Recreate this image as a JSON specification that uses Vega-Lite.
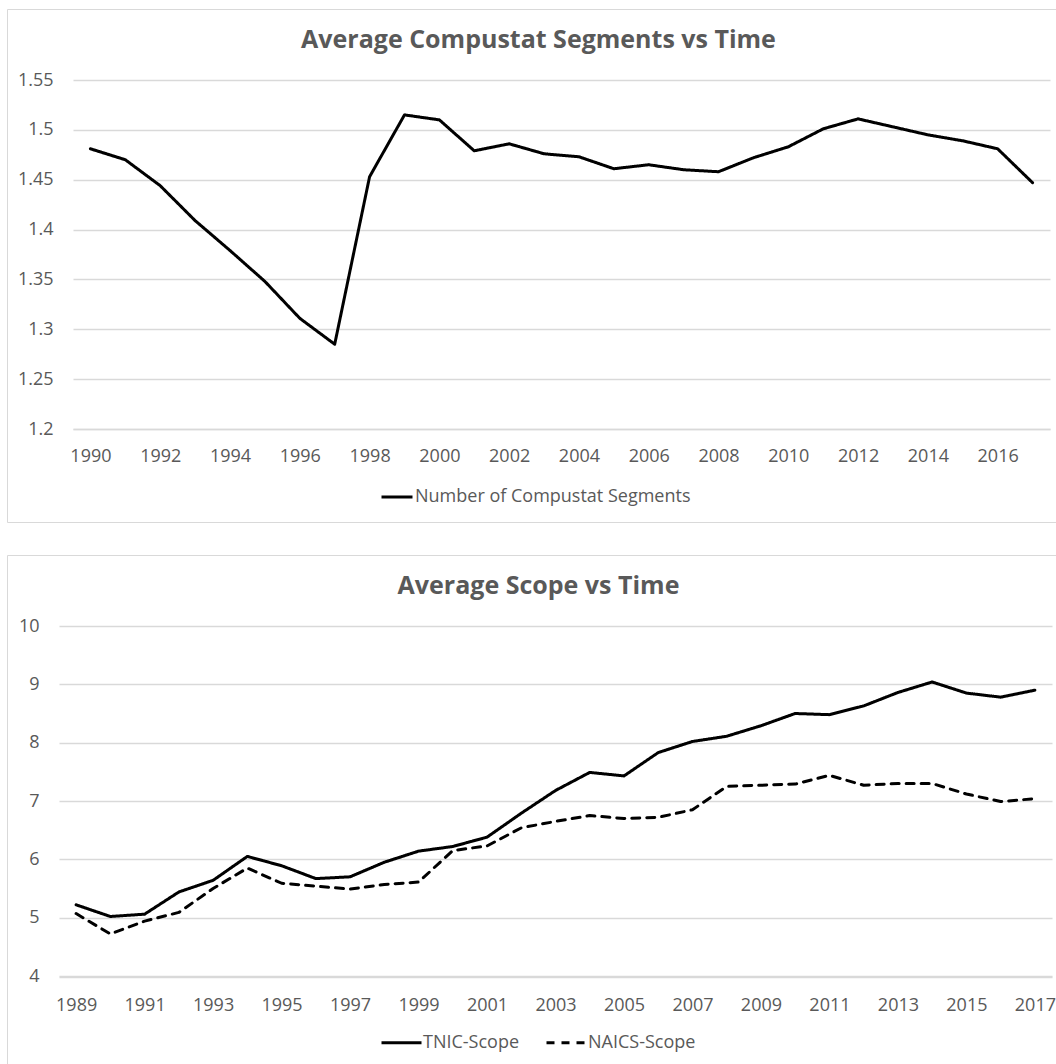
{
  "$schema": "https://vega.github.io/schema/vega-lite/v6.json",
  "padding": {"left": 6, "top": 8, "right": 0, "bottom": 0},
  "background": "white",
  "spacing": 31,
  "config": {
    "view": {"stroke": "#d9d9d9", "strokeWidth": 1},
    "font": "Open Sans",
    "axis": {
      "labelFont": "Open Sans",
      "labelFontSize": 18,
      "labelColor": "#595959",
      "gridColor": "#d9d9d9",
      "gridWidth": 1.3,
      "domainColor": "#d9d9d9",
      "domainWidth": 1.6,
      "ticks": false,
      "title": null
    },
    "legend": {
      "labelFont": "Open Sans",
      "labelFontSize": 18,
      "labelColor": "#595959",
      "labelLimit": 500
    },
    "title": {
      "font": "Open Sans",
      "fontSize": 25,
      "fontWeight": "bold",
      "color": "#595959"
    }
  },
  "resolve": {
    "scale": {"x": "independent", "y": "independent", "strokeDash": "independent"},
    "legend": {"strokeDash": "independent"}
  },
  "vconcat": [
    {
      "width": 1049,
      "height": 513,
      "title": {"text": "Average Compustat Segments vs Time", "offset": -44, "anchor": "middle", "dx": 7},
      "data": {
        "values": [
          {"year": "1990", "series": "Number of Compustat Segments", "value": 1.481},
          {"year": "1991", "series": "Number of Compustat Segments", "value": 1.470},
          {"year": "1992", "series": "Number of Compustat Segments", "value": 1.444},
          {"year": "1993", "series": "Number of Compustat Segments", "value": 1.409},
          {"year": "1994", "series": "Number of Compustat Segments", "value": 1.379},
          {"year": "1995", "series": "Number of Compustat Segments", "value": 1.348},
          {"year": "1996", "series": "Number of Compustat Segments", "value": 1.311},
          {"year": "1997", "series": "Number of Compustat Segments", "value": 1.285},
          {"year": "1998", "series": "Number of Compustat Segments", "value": 1.453},
          {"year": "1999", "series": "Number of Compustat Segments", "value": 1.515},
          {"year": "2000", "series": "Number of Compustat Segments", "value": 1.510},
          {"year": "2001", "series": "Number of Compustat Segments", "value": 1.479},
          {"year": "2002", "series": "Number of Compustat Segments", "value": 1.486},
          {"year": "2003", "series": "Number of Compustat Segments", "value": 1.476},
          {"year": "2004", "series": "Number of Compustat Segments", "value": 1.473},
          {"year": "2005", "series": "Number of Compustat Segments", "value": 1.461},
          {"year": "2006", "series": "Number of Compustat Segments", "value": 1.465},
          {"year": "2007", "series": "Number of Compustat Segments", "value": 1.460},
          {"year": "2008", "series": "Number of Compustat Segments", "value": 1.458},
          {"year": "2009", "series": "Number of Compustat Segments", "value": 1.472},
          {"year": "2010", "series": "Number of Compustat Segments", "value": 1.483},
          {"year": "2011", "series": "Number of Compustat Segments", "value": 1.501},
          {"year": "2012", "series": "Number of Compustat Segments", "value": 1.511},
          {"year": "2013", "series": "Number of Compustat Segments", "value": 1.503},
          {"year": "2014", "series": "Number of Compustat Segments", "value": 1.495},
          {"year": "2015", "series": "Number of Compustat Segments", "value": 1.489},
          {"year": "2016", "series": "Number of Compustat Segments", "value": 1.481},
          {"year": "2017", "series": "Number of Compustat Segments", "value": 1.447}
        ]
      },
      "mark": {"type": "line", "color": "black", "strokeWidth": 3, "strokeJoin": "round", "strokeCap": "round"},
      "encoding": {
        "x": {
          "field": "year", "type": "ordinal",
          "scale": {"type": "point", "range": [66, 1043], "padding": 0.5},
          "axis": {
            "values": ["1990","1992","1994","1996","1998","2000","2002","2004","2006","2008","2010","2012","2014","2016"],
            "labelAngle": 0, "offset": -93, "grid": false, "labelPadding": 18
          }
        },
        "y": {
          "field": "value", "type": "quantitative",
          "scale": {"domain": [1.2, 1.55], "range": [420, 71], "zero": false, "nice": false},
          "axis": {
            "values": [1.2, 1.25, 1.3, 1.35, 1.4, 1.45, 1.5, 1.55],
            "format": ".2~f", "offset": -66, "domain": false, "labelPadding": 20, "grid": true
          }
        },
        "strokeDash": {
          "field": "series", "type": "nominal",
          "scale": {"domain": ["Number of Compustat Segments"], "range": [[1, 0]]},
          "legend": {
            "orient": "none", "legendX": 373, "legendY": 471, "direction": "horizontal",
            "title": null, "symbolType": "stroke", "symbolSize": 961, "symbolStrokeWidth": 3,
            "symbolStrokeColor": "black", "labelOffset": 1
          }
        }
      }
    },
    {
      "width": 1049,
      "height": 509,
      "title": {"text": "Average Scope vs Time", "offset": -44, "anchor": "middle", "dx": 7},
      "data": {
        "values": [
          {"year": "1989", "series": "TNIC-Scope", "value": 5.22},
          {"year": "1990", "series": "TNIC-Scope", "value": 5.02},
          {"year": "1991", "series": "TNIC-Scope", "value": 5.06},
          {"year": "1992", "series": "TNIC-Scope", "value": 5.44},
          {"year": "1993", "series": "TNIC-Scope", "value": 5.64},
          {"year": "1994", "series": "TNIC-Scope", "value": 6.05},
          {"year": "1995", "series": "TNIC-Scope", "value": 5.89},
          {"year": "1996", "series": "TNIC-Scope", "value": 5.67},
          {"year": "1997", "series": "TNIC-Scope", "value": 5.70},
          {"year": "1998", "series": "TNIC-Scope", "value": 5.95},
          {"year": "1999", "series": "TNIC-Scope", "value": 6.14},
          {"year": "2000", "series": "TNIC-Scope", "value": 6.22},
          {"year": "2001", "series": "TNIC-Scope", "value": 6.38},
          {"year": "2002", "series": "TNIC-Scope", "value": 6.79},
          {"year": "2003", "series": "TNIC-Scope", "value": 7.18},
          {"year": "2004", "series": "TNIC-Scope", "value": 7.49},
          {"year": "2005", "series": "TNIC-Scope", "value": 7.43},
          {"year": "2006", "series": "TNIC-Scope", "value": 7.83},
          {"year": "2007", "series": "TNIC-Scope", "value": 8.02},
          {"year": "2008", "series": "TNIC-Scope", "value": 8.11},
          {"year": "2009", "series": "TNIC-Scope", "value": 8.29},
          {"year": "2010", "series": "TNIC-Scope", "value": 8.50},
          {"year": "2011", "series": "TNIC-Scope", "value": 8.48},
          {"year": "2012", "series": "TNIC-Scope", "value": 8.63},
          {"year": "2013", "series": "TNIC-Scope", "value": 8.86},
          {"year": "2014", "series": "TNIC-Scope", "value": 9.04},
          {"year": "2015", "series": "TNIC-Scope", "value": 8.85},
          {"year": "2016", "series": "TNIC-Scope", "value": 8.78},
          {"year": "2017", "series": "TNIC-Scope", "value": 8.90},
          {"year": "1989", "series": "NAICS-Scope", "value": 5.07},
          {"year": "1990", "series": "NAICS-Scope", "value": 4.72},
          {"year": "1991", "series": "NAICS-Scope", "value": 4.94},
          {"year": "1992", "series": "NAICS-Scope", "value": 5.09},
          {"year": "1993", "series": "NAICS-Scope", "value": 5.50},
          {"year": "1994", "series": "NAICS-Scope", "value": 5.85},
          {"year": "1995", "series": "NAICS-Scope", "value": 5.59},
          {"year": "1996", "series": "NAICS-Scope", "value": 5.54},
          {"year": "1997", "series": "NAICS-Scope", "value": 5.49},
          {"year": "1998", "series": "NAICS-Scope", "value": 5.57},
          {"year": "1999", "series": "NAICS-Scope", "value": 5.61},
          {"year": "2000", "series": "NAICS-Scope", "value": 6.15},
          {"year": "2001", "series": "NAICS-Scope", "value": 6.23},
          {"year": "2002", "series": "NAICS-Scope", "value": 6.54},
          {"year": "2003", "series": "NAICS-Scope", "value": 6.65},
          {"year": "2004", "series": "NAICS-Scope", "value": 6.75},
          {"year": "2005", "series": "NAICS-Scope", "value": 6.70},
          {"year": "2006", "series": "NAICS-Scope", "value": 6.72},
          {"year": "2007", "series": "NAICS-Scope", "value": 6.85},
          {"year": "2008", "series": "NAICS-Scope", "value": 7.25},
          {"year": "2009", "series": "NAICS-Scope", "value": 7.27},
          {"year": "2010", "series": "NAICS-Scope", "value": 7.29},
          {"year": "2011", "series": "NAICS-Scope", "value": 7.44},
          {"year": "2012", "series": "NAICS-Scope", "value": 7.27},
          {"year": "2013", "series": "NAICS-Scope", "value": 7.30},
          {"year": "2014", "series": "NAICS-Scope", "value": 7.30},
          {"year": "2015", "series": "NAICS-Scope", "value": 7.12},
          {"year": "2016", "series": "NAICS-Scope", "value": 6.99},
          {"year": "2017", "series": "NAICS-Scope", "value": 7.04}
        ]
      },
      "mark": {"type": "line", "color": "black", "strokeWidth": 3, "strokeJoin": "round", "strokeCap": "round"},
      "encoding": {
        "x": {
          "field": "year", "type": "ordinal",
          "scale": {"type": "point", "range": [52, 1045], "padding": 0.5},
          "axis": {
            "values": ["1989","1991","1993","1995","1997","1999","2001","2003","2005","2007","2009","2011","2013","2015","2017"],
            "labelAngle": 0, "offset": -87, "grid": false, "labelPadding": 19
          }
        },
        "y": {
          "field": "value", "type": "quantitative",
          "scale": {"domain": [4, 10], "range": [421, 71], "zero": false, "nice": false},
          "axis": {
            "values": [4, 5, 6, 7, 8, 9, 10],
            "format": "d", "offset": -52, "domain": false, "labelPadding": 20, "grid": true
          }
        },
        "strokeDash": {
          "field": "series", "type": "nominal",
          "scale": {"domain": ["TNIC-Scope", "NAICS-Scope"], "range": [[1, 0], [8, 7]]},
          "legend": {
            "orient": "none", "legendX": 373, "legendY": 466, "direction": "horizontal",
            "title": null, "symbolType": "stroke", "symbolSize": 1600, "symbolStrokeWidth": 3,
            "symbolStrokeColor": "black", "labelOffset": 0, "columnPadding": 20
          }
        }
      }
    }
  ]
}
